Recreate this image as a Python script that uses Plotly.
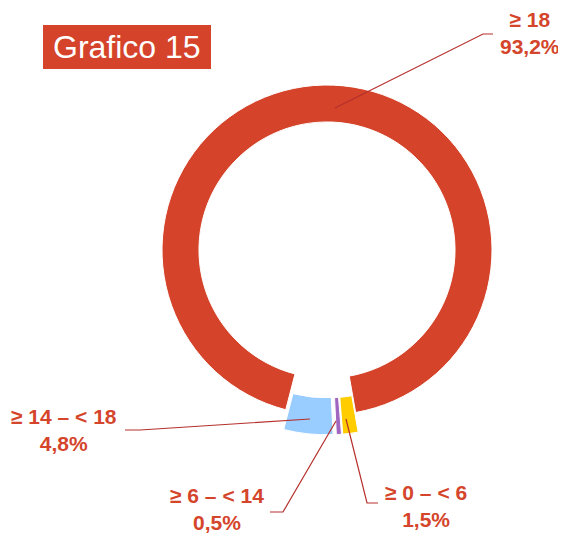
import plotly.graph_objects as go

categories = ["≥ 0 – < 6", "≥ 6 – < 14", "≥ 14 – < 18", "≥ 18"]
values = [1.5, 0.5, 4.8, 93.2]
value_labels = ["1,5%", "0,5%", "4,8%", "93,2%"]
colors = ["#FFCC00", "#A066C0", "#99CCFF", "#D4432A"]
pulls = [0.12, 0.12, 0.12, 0.0]

# browser body margin is 8px; figure fills the rest of the 566x534 window
OFF = 8
W, H = 566 - OFF, 534 - OFF
RED = "#D4432A"
TXT = "#D4452B"
LINE = "#B5302C"


def px(x):
    return (x - OFF) / W


def py(y):
    return 1 - (y - OFF) / H


cx, cy, R = 327, 250, 165 * 1.12
fig = go.Figure()
fig.add_trace(go.Pie(
    labels=categories, values=values, sort=False, direction="clockwise",
    rotation=170, hole=0.776, pull=pulls,
    marker=dict(colors=colors, line=dict(color="white", width=1)),
    textinfo="none", hoverinfo="label+percent", showlegend=False,
    domain=dict(x=[px(cx - R), px(cx + R)], y=[py(cy + R), py(cy - R)]),
))

# leader lines (window pixel positions converted to paper coords)
paths = [
    [(335, 108), (483, 34), (493, 34)],
    [(125, 430), (140, 430), (310, 419)],
    [(270, 512), (283, 512), (336, 421)],
    [(346, 419), (367, 503), (378, 503)],
]
for p in paths:
    d = "M " + " L ".join(f"{px(x):.4f},{py(y):.4f}" for x, y in p)
    fig.add_shape(type="path", path=d, xref="paper", yref="paper",
                  line=dict(color=LINE, width=1.2))

label_pos = {"≥ 18": (530, 33), "≥ 14 – < 18": (64, 430),
             "≥ 6 – < 14": (217, 509), "≥ 0 – < 6": (426, 506)}
for cat, vl in zip(categories, value_labels):
    x, y = label_pos[cat]
    fig.add_annotation(x=px(x), y=py(y), xref="paper", yref="paper",
                       text=f"<b>{cat}</b><br><b>{vl}</b>", showarrow=False,
                       font=dict(family="Liberation Sans, Arial", size=21, color=TXT),
                       align="center", xanchor="center", yanchor="middle")

# title box
fig.add_shape(type="rect", xref="paper", yref="paper",
              x0=px(43), x1=px(211), y0=py(69), y1=py(25),
              fillcolor=RED, line=dict(width=0), layer="below")
fig.add_annotation(x=px(127), y=py(47), xref="paper", yref="paper",
                   text="Grafico 15", showarrow=False,
                   font=dict(family="Liberation Sans, Arial", size=32, color="white"),
                   xanchor="center", yanchor="middle")

fig.update_layout(width=W, height=H, margin=dict(l=0, r=0, t=0, b=0),
                  paper_bgcolor="white", plot_bgcolor="white")
fig.write_html("out.html")
